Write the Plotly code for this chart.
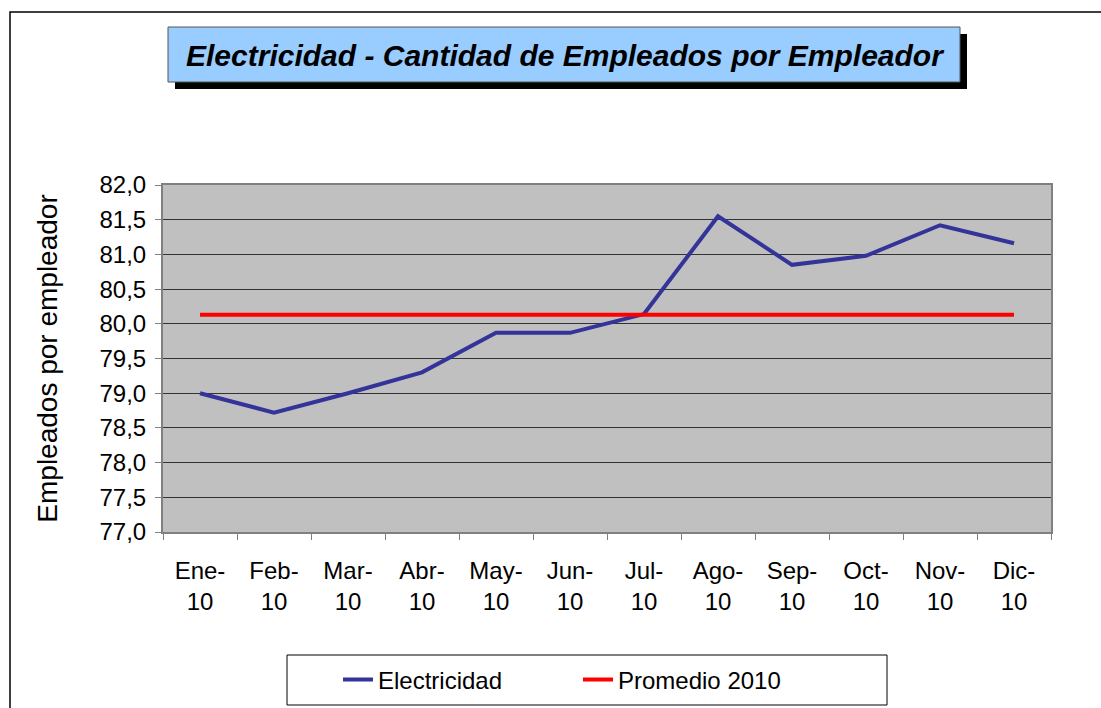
import plotly.graph_objects as go

meses = ['Ene-<br>10', 'Feb-<br>10', 'Mar-<br>10', 'Abr-<br>10', 'May-<br>10', 'Jun-<br>10',
         'Jul-<br>10', 'Ago-<br>10', 'Sep-<br>10', 'Oct-<br>10', 'Nov-<br>10', 'Dic-<br>10']
electricidad = [79.0, 78.72, 79.0, 79.3, 79.87, 79.87, 80.14, 81.55, 80.85, 80.98, 81.42, 81.16]
promedio_2010 = [80.13] * 12

W, H = 1101, 708
L, R, T, B = 163, 50, 185, 176
pw, ph = W - L - R, H - T - B

def px(x):
    # pixel -> paper x
    return (x - L) / pw

def py(y):
    # pixel -> paper y
    return (H - B - y) / ph

font = 'Arial, Liberation Sans, sans-serif'

fig = go.Figure()
fig.add_trace(go.Scatter(x=meses, y=electricidad, mode='lines', name='Electricidad',
                         line=dict(color='#333399', width=4)))
fig.add_trace(go.Scatter(x=meses, y=promedio_2010, mode='lines', name='Promedio 2010',
                         line=dict(color='#FF0000', width=4)))

shapes = [
    # outer frame
    dict(type='rect', xref='paper', yref='paper', x0=px(10), x1=px(1115), y0=py(720), y1=py(12),
         line=dict(color='black', width=1.5), layer='below'),
    # title shadow
    dict(type='rect', xref='paper', yref='paper', x0=px(175), x1=px(967), y0=py(89), y1=py(34),
         fillcolor='black', line=dict(width=0)),
    # title box
    dict(type='rect', xref='paper', yref='paper', x0=px(168), x1=px(960), y0=py(82), y1=py(27),
         fillcolor='#99CCFF', line=dict(color='#555555', width=1)),
    # legend box
    dict(type='rect', xref='paper', yref='paper', x0=px(287), x1=px(887), y0=py(705), y1=py(655),
         fillcolor='white', line=dict(color='black', width=1)),
]

fig.update_layout(
    width=W, height=H,
    margin=dict(l=L, r=R, t=T, b=B, autoexpand=False),
    paper_bgcolor='white', plot_bgcolor='#C0C0C0',
    separators=',.',
    font=dict(family=font, color='black'),
    shapes=shapes,
    annotations=[dict(text='<b><i>Electricidad - Cantidad de Empleados por Empleador</i></b>',
                      xref='paper', yref='paper', x=px(565), y=py(55), xanchor='center',
                      yanchor='middle', showarrow=False,
                      font=dict(size=30, family=font, color='black'))],
    showlegend=True,
    legend=dict(orientation='h', xref='paper', yref='paper', x=px(338), y=py(680),
                xanchor='left', yanchor='middle', borderwidth=0,
                bgcolor='rgba(0,0,0,0)', font=dict(size=24), entrywidth=195,
                entrywidthmode='pixels'),
)
fig.update_xaxes(type='category', range=[-0.5, 11.5], tickson='boundaries', ticks='outside',
                 ticklen=6, tickcolor='#808080', showline=True, linecolor='#808080',
                 linewidth=2, mirror=True, showgrid=False, tickfont=dict(size=24),
                 ticklabelstandoff=16, automargin=False)
fig.update_yaxes(range=[77, 82], dtick=0.5, tickformat='.1f', ticks='outside', ticklen=6,
                 tickcolor='#808080', showline=True, linecolor='#808080', linewidth=2,
                 mirror=True, showgrid=True, gridcolor='#333333', gridwidth=1,
                 zeroline=False, tickfont=dict(size=24), ticklabelstandoff=4, automargin=False,
                 title=dict(text='Empleados por empleador', font=dict(size=28), standoff=34))

# drop the page's default body margin so the figure fills the window exactly
fig.write_html('out.html', config={'displayModeBar': False},
               post_script="document.body.style.margin='0';")
